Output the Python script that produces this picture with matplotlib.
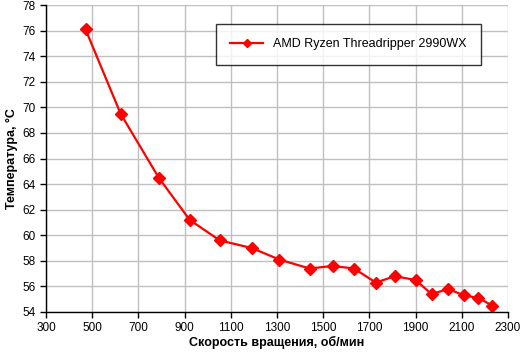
import matplotlib
matplotlib.use('Agg')
import matplotlib.pyplot as plt

plt.rcParams['font.family'] = ['Liberation Sans', 'DejaVu Sans']

# Data
rpm = [471, 623, 788, 922, 1052, 1191, 1310, 1441, 1541, 1633,
       1728, 1810, 1900, 1969, 2041, 2109, 2172, 2232]
temp = [76.1, 69.5, 64.5, 61.2, 59.6, 59.0, 58.1, 57.4, 57.6, 57.4,
        56.3, 56.8, 56.5, 55.4, 55.8, 55.3, 55.1, 54.5]
series_name = 'AMD Ryzen Threadripper 2990WX'
x_ticks = list(range(300, 2301, 200))
y_ticks = list(range(54, 79, 2))

fig = plt.figure(figsize=(5.21, 3.55), dpi=100)
ax = fig.add_axes([46 / 521, 1 - 312 / 355, 462 / 521, 307 / 355])

ax.plot(rpm, temp, color='#ff0000', linewidth=1.6, marker='D', markersize=6,
        markeredgecolor='#ff0000', markerfacecolor='#ff0000', label=series_name)

ax.set_xlim(300, 2300)
ax.set_ylim(54, 78)
ax.set_xticks(x_ticks)
ax.set_yticks(y_ticks)
ax.tick_params(labelsize=8.5, direction='out', length=4, width=1, colors='black')
ax.grid(True, color='#c0c0c0', linewidth=1)
ax.set_axisbelow(True)
for side in ['top', 'right']:
    ax.spines[side].set_visible(False)
for side in ['left', 'bottom']:
    ax.spines[side].set_color('black')
    ax.spines[side].set_linewidth(1)

ax.set_xlabel('Скорость вращения, об/мин', fontweight='bold', fontsize=9, labelpad=1)
ax.set_ylabel('Температура, °С', fontweight='bold', fontsize=9, labelpad=3)

leg = ax.legend(loc='upper left', bbox_to_anchor=((216 - 46) / 462, (312 - 24) / 307),
                fontsize=9, frameon=True, fancybox=False, borderpad=1.15,
                borderaxespad=0, handlelength=2.6, markerscale=0.7)
leg.get_frame().set_edgecolor('black')
leg.get_frame().set_linewidth(1)

plt.savefig('out.png', dpi=100)
